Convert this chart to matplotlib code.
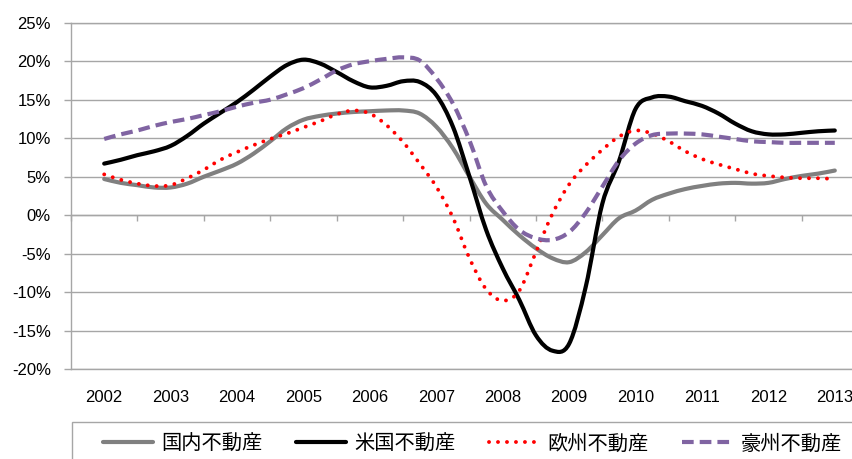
import numpy as np
import matplotlib
matplotlib.use("Agg")
import matplotlib.pyplot as plt
from matplotlib.patches import Rectangle, PathPatch
from matplotlib.path import Path
from matplotlib.lines import Line2D

# quarterly periods, 2002 Q1 .. 2013 Q1
periods = np.arange(45) / 4 + 2002
years = list(range(2002, 2014))

labels = ["国内不動産", "米国不動産", "欧州不動産", "豪州不動産"]

domestic = [4.7, 4.2, 3.9, 3.6, 3.6, 4.1, 5.0, 5.8, 6.7, 8.0,
            9.6, 11.3, 12.4, 12.9, 13.2, 13.4, 13.5, 13.6, 13.6, 13.2,
            11.5, 8.7, 5.0, 1.5, -0.6, -2.6, -4.3, -5.6, -6.1, -4.8,
            -2.6, -0.4, 0.6, 2.0, 2.8, 3.4, 3.8, 4.1, 4.2, 4.1,
            4.2, 4.7, 5.1, 5.4, 5.8]
usa = [6.7, 7.2, 7.8, 8.3, 9.0, 10.3, 11.9, 13.3, 14.7, 16.3,
       18.0, 19.5, 20.2, 19.7, 18.6, 17.4, 16.6, 16.8, 17.4, 17.3,
       15.6, 11.5, 5.0, -1.9, -6.9, -11.0, -15.6, -17.6, -16.7, -9.3,
       1.5, 7.0, 13.8, 15.3, 15.4, 14.8, 14.2, 13.2, 11.9, 10.9,
       10.5, 10.5, 10.7, 10.9, 11.0]
europe = [5.3, 4.6, 4.1, 3.8, 3.9, 4.8, 5.9, 7.2, 8.2, 9.1,
          9.9, 10.6, 11.4, 12.2, 13.1, 13.6, 13.2, 11.7, 9.5, 6.7,
          3.7, -0.3, -5.6, -9.6, -11.1, -9.8, -4.8, 0.2, 4.0, 6.5,
          8.5, 10.2, 11.0, 10.6, 9.6, 8.3, 7.3, 6.6, 6.0, 5.4,
          5.1, 4.9, 4.8, 4.8, 4.7]
australia = [9.9, 10.5, 11.0, 11.6, 12.1, 12.5, 13.0, 13.5, 14.1, 14.6,
             15.0, 15.7, 16.5, 17.6, 18.8, 19.6, 20.0, 20.3, 20.5, 20.1,
             17.8, 14.5, 9.7, 3.8, 0.5, -1.9, -3.0, -3.2, -2.2, 0.3,
             3.7, 7.1, 9.3, 10.4, 10.6, 10.6, 10.5, 10.2, 9.9, 9.6,
             9.5, 9.4, 9.4, 9.4, 9.4]

y_ticks = list(range(-20, 30, 5))

grid_col = "#a6a6a6"
styles = [
    dict(color="#808080", lw=3, ls="-", cap="round"),
    dict(color="black", lw=3, ls="-", cap="round"),
    dict(color="#ff0000", lw=2.8, ls=(0, (0.01, 2.3)), cap="round"),
    dict(color="#8064a2", lw=3, ls=(0, (2.8, 1.45)), cap="butt"),
]


def smooth_path(x, y):
    # smoothed line like Excel's (Catmull-Rom as cubic Bezier)
    p = np.column_stack([x, y]).astype(float)
    ext = np.vstack([p[0], p, p[-1]])
    verts = [p[0]]
    codes = [Path.MOVETO]
    for i in range(len(p) - 1):
        c1 = ext[i + 1] + (ext[i + 2] - ext[i]) / 6
        c2 = ext[i + 2] - (ext[i + 3] - ext[i + 1]) / 6
        verts += [c1, c2, p[i + 1]]
        codes += [Path.CURVE4] * 3
    return Path(verts, codes)


plt.rcParams["font.family"] = ["Liberation Sans", "Noto Sans CJK JP", "DejaVu Sans"]

fig = plt.figure(figsize=(8.53, 4.59), dpi=100)
ax = fig.add_axes([71 / 853, 1 - 369.2 / 459, 797 / 853, 346.5 / 459])

handles = []
for series, st in zip([domestic, usa, europe, australia], styles):
    patch = PathPatch(smooth_path(periods, series), fill=False, edgecolor=st["color"],
                      lw=st["lw"], linestyle=st["ls"], capstyle=st["cap"],
                      joinstyle="round", zorder=3)
    ax.add_patch(patch)
    handles.append(Line2D([], [], color=st["color"], lw=st["lw"], linestyle=st["ls"],
                          solid_capstyle=st["cap"], dash_capstyle=st["cap"]))

ax.set_xlim(2001.5, 2013.5)
ax.set_ylim(-20, 25)
ax.set_yticks(y_ticks)
ax.set_yticklabels([f"{v}%" for v in y_ticks], fontsize=12)
ax.set_xticks(years)
ax.set_xticklabels([str(y) for y in years], fontsize=12)
ax.tick_params(axis="x", length=0, pad=15)
ax.tick_params(axis="y", length=5, color=grid_col, width=1, pad=9.5)
ax.yaxis.grid(True, color=grid_col, lw=1)
ax.set_axisbelow(True)
for side in ["top", "bottom", "left"]:
    ax.spines[side].set_color(grid_col)
    ax.spines[side].set_linewidth(1)
ax.spines["right"].set_visible(False)

# category axis crossing at 0% with ticks between categories
sec = ax.secondary_xaxis(0, transform=ax.transData)
sec.set_xticks(np.arange(2001.5, 2014, 1))
sec.set_xticklabels([])
sec.tick_params(direction="out", length=4.5, color=grid_col, width=1)
sec.spines["bottom"].set_color(grid_col)
sec.spines["bottom"].set_linewidth(1)

# legend box at the bottom
fig.add_artist(Rectangle((72 / 853, -0.2), 1.0, 0.2 + 1 - 422 / 459,
                         transform=fig.transFigure, fill=False,
                         edgecolor=grid_col, lw=1))
fig.legend(handles, labels, loc="center left",
           bbox_to_anchor=(103 / 853, 1 - 444 / 459), ncol=4, frameon=False,
           prop={"family": ["Noto Sans CJK JP", "DejaVu Sans"], "size": 14.6},
           handlelength=2.46, handletextpad=0.43, columnspacing=1.63,
           borderpad=0, borderaxespad=0)

fig.savefig("out.png", dpi=100)
